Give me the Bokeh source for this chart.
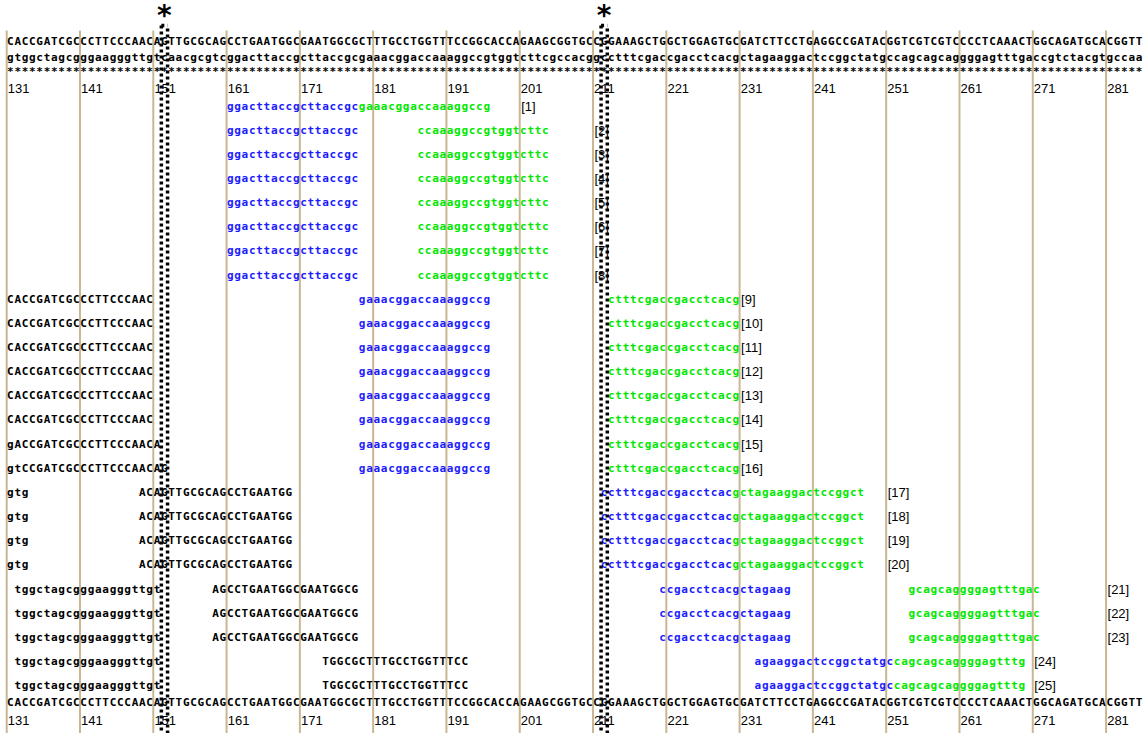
from bokeh.plotting import figure
from bokeh.models import Range1d, ColumnDataSource
from bokeh.core.properties import value
from bokeh.embed import file_html
from bokeh.resources import INLINE

# ---------------- data ----------------
REF_START = 131
REF_DECADES = ["CACCGATCGC", "CCTTCCCAAC", "AGTTGCGCAG", "CCTGAATGGC", "GAATGGCGCT",
               "TTGCCTGGTT", "TCCGGCACCA", "GAAGCGGTGC", "CGGAAAGCTG", "GCTGGAGTGC",
               "GATCTTCCTG", "AGGCCGATAC", "GGTCGTCGTC", "CCCTCAAACT", "GGCAGATGCA", "CGGTT"]
COMP_DECADES = ["gtggctagcg", "ggaagggttg", "tcaacgcgtc", "ggacttaccg", "cttaccgcga",
                "aacggaccaa", "aggccgtggt", "cttcgccacg", "gcctttcgac", "cgacctcacg",
                "ctagaaggac", "tccggctatg", "ccagcagcag", "gggagtttga", "ccgtctacgt", "gccaa"]
POS_LABELS = [131, 141, 151, 161, 171, 181, 191, 201, 211, 221, 231, 241, 251, 261, 271, 281]
MARKED_POSITIONS = [152, 212]

# read segments: (start position, text, colour key)
SEGS_A = [(161, "ggacttaccgcttaccgc", "B"), (179, "gaaacggaccaaaggccg", "G")]
SEGS_B = [(161, "ggacttaccgcttaccgc", "B"), (187, "ccaaaggccgtggtcttc", "G")]
SEGS_C_TAIL = [(179, "gaaacggaccaaaggccg", "B"), (213, "ctttcgaccgacctcacg", "G")]
SEGS_C = [(131, "CACCGATCGCCCTTCCCAAC", "K")] + SEGS_C_TAIL
SEGS_C15 = [(131, "gACCGATCGCCCTTCCCAACA", "K")] + SEGS_C_TAIL
SEGS_C16 = [(131, "gtCCGATCGCCCTTCCCAACAG", "K")] + SEGS_C_TAIL
SEGS_D = [(131, "gtg", "K"), (149, "ACAGTTGCGCAGCCTGAATGG", "K"),
          (212, "cctttcgaccgacctcac", "B"), (230, "gctagaaggactccggct", "G")]
SEGS_E = [(132, "tggctagcgggaagggttgt", "K"), (159, "AGCCTGAATGGCGAATGGCG", "K"),
          (220, "ccgacctcacgctagaag", "B"), (254, "gcagcaggggagtttgac", "G")]
SEGS_F = [(132, "tggctagcgggaagggttgt", "K"), (174, "TGGCGCTTTGCCTGGTTTCC", "K"),
          (233, "agaaggactccggctatgc", "B"), (252, "cagcagcaggggagtttg", "G")]

READ_IDS = list(range(1, 26))
READ_SEGMENTS = ([SEGS_A] + [SEGS_B] * 7 + [SEGS_C] * 6 + [SEGS_C15, SEGS_C16]
                 + [SEGS_D] * 4 + [SEGS_E] * 3 + [SEGS_F] * 2)
READ_LABEL_POS = [201] + [211] * 7 + [231] * 8 + [251] * 4 + [281] * 3 + [271] * 2

COLORS = {"K": "#000000", "B": "#1c1cff", "G": "#00e800"}

# ---------------- layout ----------------
W, H = 1144, 733
CELL_PX = 7.329
X_ORIGIN_PX = 6.2
x0 = REF_START - X_ORIGIN_PX / CELL_PX
TOP_MARK_Y = 15
REF_Y, COMP_Y, STAR_Y, POS_Y = 41, 57, 71, 88
ROW1_Y, ROW_H = 105.5, 24.15
BOT_REF_Y, BOT_POS_Y = 702, 720
SEP_TOP = 30
BOX_TOP = 25

p = figure(width=W, height=H, output_backend="svg", toolbar_location=None,
           x_range=Range1d(x0, x0 + W / CELL_PX), y_range=Range1d(H, 0),
           x_axis_location=None, y_axis_location=None, min_border=0,
           outline_line_color=None, background_fill_color="white")
p.xgrid.visible = False
p.ygrid.visible = False

ref_seq = "".join(REF_DECADES)
comp_seq = "".join(COMP_DECADES)

# separators
p.segment(x0=POS_LABELS, y0=[SEP_TOP] * len(POS_LABELS), x1=POS_LABELS, y1=[H] * len(POS_LABELS),
          line_color="#c9b794", line_width=2)

chars = dict(x=[], y=[], t=[], c=[])


def add_string(start, s, y, color):
    for i, ch in enumerate(s):
        chars["x"].append(start + i + 0.5)
        chars["y"].append(y)
        chars["t"].append(ch)
        chars["c"].append(color)


add_string(REF_START, ref_seq, REF_Y, "#000000")
add_string(REF_START, comp_seq, COMP_Y, "#000000")
add_string(REF_START, ref_seq, BOT_REF_Y, "#000000")
add_string(REF_START, "*" * len(ref_seq), STAR_Y, "#000000")

labels = dict(x=[], y=[], t=[])
for rid, segs, lp in zip(READ_IDS, READ_SEGMENTS, READ_LABEL_POS):
    y = ROW1_Y + (rid - 1) * ROW_H
    for start, s, ck in segs:
        add_string(start, s, y, COLORS[ck])
    labels["x"].append(lp + 0.2)
    labels["y"].append(y)
    labels["t"].append("[%d]" % rid)

for pl in POS_LABELS:
    for yy in (POS_Y, BOT_POS_Y):
        labels["x"].append(pl + 0.15)
        labels["y"].append(yy)
        labels["t"].append(str(pl))

p.text(x="x", y="y", text="t", text_color="c", source=ColumnDataSource(chars),
       text_font=value("DejaVu Sans Mono"), text_font_size="11px", text_font_style="bold",
       text_align="center", text_baseline="middle")
p.text(x="x", y="y", text="t", source=ColumnDataSource(labels), text_color="black",
       text_font=value("Liberation Sans"), text_font_size="13px",
       text_align="left", text_baseline="middle")

# dotted boxes around marked columns
for mp in MARKED_POSITIONS:
    p.segment(x0=[mp + 0.1], y0=[BOX_TOP], x1=[mp + 0.1], y1=[H], line_color="black",
              line_width=3.5, line_dash="3 3")
    p.segment(x0=[mp + 0.95], y0=[BOX_TOP], x1=[mp + 0.95], y1=[H], line_color="black",
              line_width=3.5, line_dash="3 3", line_dash_offset=3)
    p.segment(x0=[mp + 0.1], y0=[BOX_TOP], x1=[mp + 0.95], y1=[BOX_TOP], line_color="black",
              line_width=3.5, line_dash="3 3")

p.text(x=[mp + 0.5 for mp in MARKED_POSITIONS], y=[TOP_MARK_Y] * len(MARKED_POSITIONS),
       text=["*"] * len(MARKED_POSITIONS), text_color="black",
       text_font=value("DejaVu Sans"), text_font_size="28px", text_font_style="bold",
       text_align="center", text_baseline="middle")

open("out.html", "w").write(file_html(p, INLINE))
